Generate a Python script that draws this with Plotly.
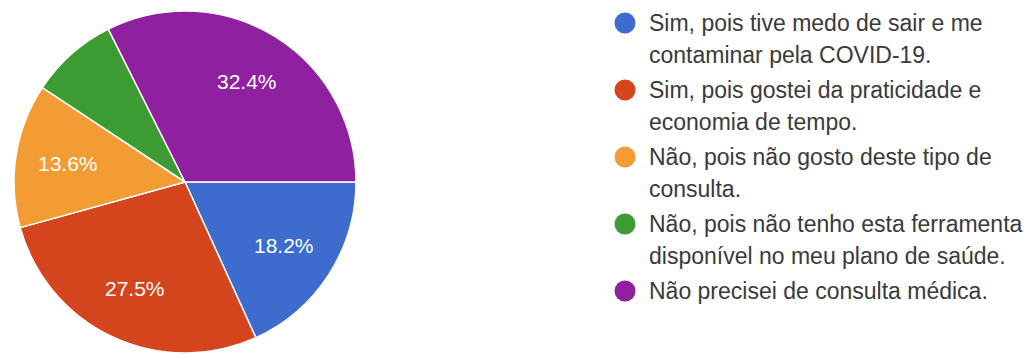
import textwrap
import math
import plotly.graph_objects as go

# Survey answers and their share of respondents (%)
categories = [
    "Sim, pois tive medo de sair e me contaminar pela COVID-19.",
    "Sim, pois gostei da praticidade e economia de tempo.",
    "Não, pois não gosto deste tipo de consulta.",
    "Não, pois não tenho esta ferramenta disponível no meu plano de saúde.",
    "Não precisei de consulta médica.",
]
values = [18.2, 27.5, 13.6, 8.3, 32.4]
colors = ["#3d6cce", "#d4451e", "#f49c34", "#3c9b33", "#8f20a0"]

W, H = 1027, 354
cx, cy, R = 185, 182, 171          # pie centre and radius, px
start_deg = 90                     # first slice starts at 3 o'clock

fig = go.Figure()
fig.add_trace(go.Pie(
    labels=categories,
    values=values,
    marker=dict(colors=colors, line=dict(color="white", width=1.5)),
    sort=False,
    direction="clockwise",
    rotation=start_deg,
    textinfo="none",
    hoverinfo="label+percent",
    showlegend=False,
    domain=dict(x=[(cx - R) / W, (cx + R) / W],
                y=[(H - cy - R) / H, (H - cy + R) / H]),
))

annotations = []
shapes = []

# Percentage labels placed along each slice's mid angle
total = sum(values)
acc = 0.0
for v in values:
    share = v / total
    mid = start_deg + (acc + share / 2) * 360
    acc += share
    if share < 0.1:
        continue
    r = 0.69 * R
    px = cx + r * math.sin(math.radians(mid))
    py = cy - r * math.cos(math.radians(mid))
    annotations.append(dict(
        x=px / W, y=1 - py / H, xref="paper", yref="paper",
        text=f"{share * 100:.1f}%", showarrow=False,
        xanchor="center", yanchor="middle",
        font=dict(family="Liberation Sans, Arial, sans-serif", size=21, color="white"),
    ))

# Legend: coloured dot plus wrapped label text
dot_x, text_x = 625, 647
item_y0, item_gap, line_gap = 23, 67, 32
for i, (cat, col) in enumerate(zip(categories, colors)):
    y = item_y0 + i * item_gap
    shapes.append(dict(
        type="circle", xref="paper", yref="paper",
        xsizemode="pixel", ysizemode="pixel",
        xanchor=dot_x / W, yanchor=1 - y / H,
        x0=-10.5, x1=10.5, y0=-10.5, y1=10.5,
        fillcolor=col, line=dict(width=0),
    ))
    for j, line in enumerate(textwrap.wrap(cat, width=35)):
        annotations.append(dict(
            x=text_x / W, y=1 - (y + j * line_gap) / H,
            xref="paper", yref="paper",
            text=line, showarrow=False,
            xanchor="left", yanchor="middle",
            font=dict(family="Liberation Sans, Arial, sans-serif", size=23, color="#3a3a3a"),
        ))

fig.update_layout(
    width=W, height=H,
    margin=dict(l=0, r=0, t=0, b=0),
    paper_bgcolor="white",
    plot_bgcolor="white",
    annotations=annotations,
    shapes=shapes,
)

fig.write_html("out.html")
